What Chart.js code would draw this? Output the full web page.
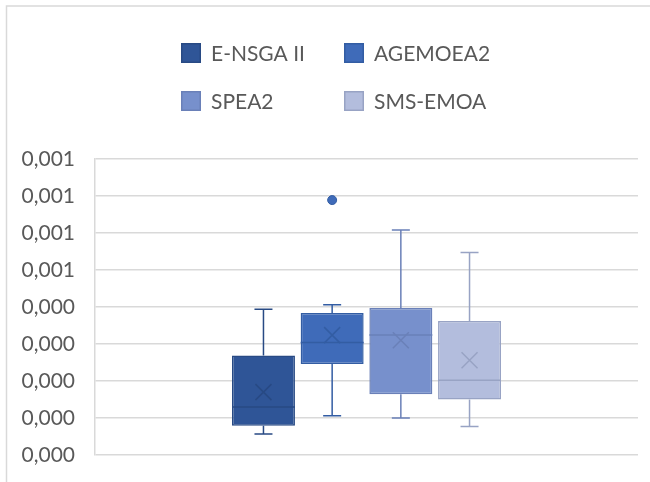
<!DOCTYPE html>
<html>
<head>
<meta charset="utf-8">
<title>Box plot</title>
<script src="https://cdn.jsdelivr.net/npm/chart.js@4.4.1/dist/chart.umd.min.js"></script>
<style>
  html, body { margin: 0; padding: 0; background: #ffffff; }
  #wrap { width: 650px; height: 482px; }
</style>
</head>
<body>
<div id="wrap"><canvas id="chart" width="650" height="482"></canvas></div>
<script>
// Series (one box per algorithm)
const seriesNames = ['E-NSGA II', 'AGEMOEA2', 'SPEA2', 'SMS-EMOA'];
const categories = [''];

// Five-number summaries, means and outliers
const lowerWhisker = [0.000057, 0.000106, 0.000100, 0.000077];
const q1Values     = [0.000079, 0.000246, 0.000164, 0.000150];
const medians      = [0.000130, 0.000304, 0.000324, 0.000202];
const q3Values     = [0.000269, 0.000384, 0.000397, 0.000362];
const upperWhisker = [0.000394, 0.000406, 0.000608, 0.000547];
const means        = [0.000170, 0.000324, 0.000310, 0.000256];
const outliers     = [[], [0.000689], [], []];

// Value axis
const yMin = 0;
const yMax = 0.0008;
const yStep = 0.0001;
const tickLabels = ['0,000', '0,000', '0,000', '0,000', '0,000', '0,001', '0,001', '0,001', '0,001'];

// Styling
const fills   = ['#2F5597', '#3F6BB9', '#7790CC', '#B3BDDD'];
const borders = ['#284A84', '#335DA3', '#6A80B8', '#98A3C4'];
const FONT = 'Lato, "Open Sans", sans-serif';
const TEXT = '#595959';
const GRID = '#d9d9d9';

const datasets = seriesNames.map((name, i) => ({
  label: name,
  data: [[q1Values[i], q3Values[i]]],
  backgroundColor: fills[i],
  borderColor: borders[i],
  borderWidth: 1.5,
  borderSkipped: false,
  categoryPercentage: 0.506,
  barPercentage: 0.917
}));

// Whiskers, median line, mean marker and outlier points on top of each box
const boxDetails = {
  id: 'boxDetails',
  afterDatasetsDraw(chart) {
    const ctx = chart.ctx;
    const y = chart.scales.y;
    seriesNames.forEach((name, i) => {
      const bar = chart.getDatasetMeta(i).data[0];
      if (!bar) return;
      const x = bar.x;
      const w = bar.width;
      const capHalf = 9;
      ctx.save();
      ctx.strokeStyle = borders[i];
      ctx.lineWidth = 1.5;
      ctx.beginPath();
      // upper whisker
      ctx.moveTo(x, y.getPixelForValue(q3Values[i]));
      ctx.lineTo(x, y.getPixelForValue(upperWhisker[i]));
      ctx.moveTo(x - capHalf, y.getPixelForValue(upperWhisker[i]));
      ctx.lineTo(x + capHalf, y.getPixelForValue(upperWhisker[i]));
      // lower whisker
      ctx.moveTo(x, y.getPixelForValue(q1Values[i]));
      ctx.lineTo(x, y.getPixelForValue(lowerWhisker[i]));
      ctx.moveTo(x - capHalf, y.getPixelForValue(lowerWhisker[i]));
      ctx.lineTo(x + capHalf, y.getPixelForValue(lowerWhisker[i]));
      // median
      ctx.moveTo(x - w / 2, y.getPixelForValue(medians[i]));
      ctx.lineTo(x + w / 2, y.getPixelForValue(medians[i]));
      ctx.stroke();
      // mean marker (x)
      const my = y.getPixelForValue(means[i]);
      const m = 8;
      ctx.beginPath();
      ctx.moveTo(x - m, my - m);
      ctx.lineTo(x + m, my + m);
      ctx.moveTo(x + m, my - m);
      ctx.lineTo(x - m, my + m);
      ctx.stroke();
      // outliers
      outliers[i].forEach(v => {
        ctx.beginPath();
        ctx.arc(x, y.getPixelForValue(v), 4.5, 0, Math.PI * 2);
        ctx.fillStyle = fills[i];
        ctx.fill();
        ctx.lineWidth = 1;
        ctx.stroke();
      });
      ctx.restore();
    });
  }
};

// Two-column legend and the outer chart frame
const legendAndFrame = {
  id: 'legendAndFrame',
  afterDraw(chart) {
    const ctx = chart.ctx;
    ctx.save();
    // frame
    ctx.strokeStyle = GRID;
    ctx.lineWidth = 1.5;
    ctx.beginPath();
    ctx.moveTo(6.5, 482);
    ctx.lineTo(6.5, 6);
    ctx.lineTo(650, 6);
    ctx.stroke();
    // legend
    const colX = [181, 344];
    const rowY = [53, 101];
    ctx.font = '21px ' + FONT;
    ctx.textBaseline = 'middle';
    ctx.textAlign = 'left';
    seriesNames.forEach((name, i) => {
      const bx = colX[i % 2];
      const by = rowY[Math.floor(i / 2)];
      ctx.fillStyle = fills[i];
      ctx.fillRect(bx, by - 10, 20, 20);
      ctx.strokeStyle = borders[i];
      ctx.lineWidth = 1.5;
      ctx.strokeRect(bx + 0.75, by - 9.25, 18.5, 18.5);
      ctx.fillStyle = TEXT;
      ctx.fillText(name, bx + 30, by + 1);
    });
    ctx.restore();
  }
};

new Chart(document.getElementById('chart'), {
  type: 'bar',
  data: { labels: categories, datasets },
  options: {
    responsive: false,
    animation: false,
    layout: { padding: { top: 159, bottom: 27, right: 12, left: 0 } },
    plugins: {
      legend: { display: false },
      tooltip: { enabled: false }
    },
    scales: {
      x: {
        display: false
      },
      y: {
        min: yMin,
        max: yMax,
        afterFit(scale) { scale.width = 95; },
        ticks: {
          stepSize: yStep,
          padding: 0,
          color: TEXT,
          font: { family: FONT, size: 21 },
          callback: (value, index) => tickLabels[index]
        },
        grid: { color: GRID, lineWidth: 1.5, drawTicks: true, tickLength: 20, tickColor: 'rgba(0,0,0,0)' },
        border: { display: true, color: GRID, width: 1.5 }
      }
    }
  },
  plugins: [boxDetails, legendAndFrame]
});
</script>
</body>
</html>
